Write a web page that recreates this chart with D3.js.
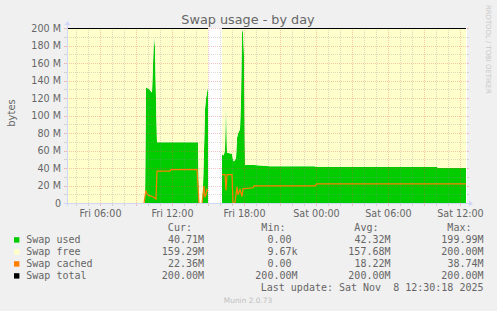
<!DOCTYPE html>
<html><head><meta charset="utf-8">
<script src="https://cdn.jsdelivr.net/npm/d3@7"></script>
<style>
html,body{margin:0;padding:0;background:#F0F0F0;}
svg{display:block;}
</style></head><body>
<svg id="chart" width="497" height="311"></svg>
<script>
// ---------- DATA (values in M bytes) ----------
const times = ["2025-11-07 03:15","2025-11-07 09:40","2025-11-07 09:45","2025-11-07 09:50","2025-11-07 09:55","2025-11-07 10:05","2025-11-07 10:15","2025-11-07 10:20","2025-11-07 10:25","2025-11-07 10:30","2025-11-07 10:35","2025-11-07 10:40","2025-11-07 10:45","2025-11-07 11:50","2025-11-07 11:55","2025-11-07 14:05","2025-11-07 14:10","2025-11-07 14:15","2025-11-07 14:30","2025-11-07 14:35","2025-11-07 14:40","2025-11-07 14:45","2025-11-07 14:50","2025-11-07 14:55","2025-11-07 15:00","2025-11-07 15:05","2025-11-07 16:05","2025-11-07 16:10","2025-11-07 16:15","2025-11-07 16:20","2025-11-07 16:25","2025-11-07 16:30","2025-11-07 16:35","2025-11-07 17:00","2025-11-07 17:05","2025-11-07 17:10","2025-11-07 17:15","2025-11-07 17:20","2025-11-07 17:25","2025-11-07 17:30","2025-11-07 17:40","2025-11-07 17:45","2025-11-07 17:50","2025-11-07 17:55","2025-11-07 18:00","2025-11-07 18:05","2025-11-07 18:45","2025-11-07 18:50","2025-11-07 20:10","2025-11-07 23:55","2025-11-08 00:00","2025-11-08 00:05","2025-11-08 10:05","2025-11-08 10:10","2025-11-08 12:30"];
const swapUsed = [0,0,0,133,132,131,128,127,160,192,178,120,70,70,70,70,70,0,0,20,60,108,120,127,133,null,null,57,55,56,62,115,58,57,50,48,50,52,75,80,85,120,199.99,195,170,44,44,44,42.5,42.5,41.6,41.6,41.6,40.71,40.71];
const swapFree = [200,200,200,67,68,69,72,73,40,8,22,80,130,130,130,130,130,200,200,180,140,92,80,73,67,null,null,143,145,144,138,85,142,143,150,152,150,148,125,120,115,80,0.01,5,30,156,156,156,157.5,157.5,158.4,158.4,158.4,159.29,159.29];
const swapCached = [0,0,8,15,11,9,8.5,8,7.5,7,6,5,37,37,38.74,38.74,20,0,0,10,20,7,10,16,14,null,null,33,33,33,33,15,33,33,0,0.5,1,10,19,10,16,12,8,17,17,17,18,20.2,20.2,20.2,21.5,22.4,22.4,22.4,22.36];
const swapTotal = [200,200,200,200,200,200,200,200,200,200,200,200,200,200,200,200,200,200,200,200,200,200,200,200,200,null,null,200,200,200,200,200,200,200,200,200,200,200,200,200,200,200,200,200,200,200,200,200,200,200,200,200,200,200,200];

const timeDomain = ["2025-11-07 03:15","2025-11-08 12:35"];
const yTickValues = [0,20,40,60,80,100,120,140,160,180,200];
const yTickLabels = ["0","20 M","40 M","60 M","80 M","100 M","120 M","140 M","160 M","180 M","200 M"];
const xLabelTimes = ["2025-11-07 06:00","2025-11-07 12:00","2025-11-07 18:00","2025-11-08 00:00","2025-11-08 06:00","2025-11-08 12:00"];
const xLabels = ["Fri 06:00","Fri 12:00","Fri 18:00","Sat 00:00","Sat 06:00","Sat 12:00"];

const legendNames = ["Swap used","Swap free","Swap cached","Swap total"];
const legendCur = ["40.71M","159.29M","22.36M","200.00M"];
const legendMin = ["0.00","9.67k","0.00","200.00M"];
const legendAvg = ["42.32M","157.68M","18.22M","200.00M"];
const legendMax = ["199.99M","200.00M","38.74M","200.00M"];
const legendHeaders = ["Cur:","Min:","Avg:","Max:"];
const titleText = "Swap usage - by day";
const yAxisTitle = "bytes";
const lastUpdate = "Last update: Sat Nov  8 12:30:18 2025";
const versionText = "Munin 2.0.73";
const watermark = "RRDTOOL / TOBI OETIKER";

// ---------- STYLE ----------
const COLORS = {used:"#00CC00", free:"#FFFFCC", cached:"#FF8000", total:"#000000"};
const legendColors = [COLORS.used, COLORS.free, COLORS.cached, COLORS.total];
const FONT = "#666666";
const AXIS = "#CFD6F8";
const GRID = "rgba(143,143,143,0.32)";
const MGRID = "rgba(222,79,79,0.32)";
const PL = 67, PR = 467, PT = 28.5, PB = 203.5;

const parse = d3.timeParse("%Y-%m-%d %H:%M");
const data = times.map((t,i)=>({t:parse(t), used:swapUsed[i], free:swapFree[i], cached:swapCached[i], total:swapTotal[i]}));

const svg = d3.select("#chart");
svg.append("rect").attr("width",497).attr("height",311).attr("fill","#F0F0F0");

const x = d3.scaleTime().domain(timeDomain.map(parse)).range([PL, PR]);
const y = d3.scaleLinear().domain([0,200]).range([PB, PT]);

// canvas
svg.append("rect").attr("x",PL).attr("y",28).attr("width",PR-PL).attr("height",175).attr("fill","#FFFFFF");

// areas
const def = d => d.used != null;
svg.append("path").datum(data)
  .attr("fill", COLORS.used)
  .attr("d", d3.area().defined(def).x(d=>x(d.t)).y0(y(0)).y1(d=>y(d.used)));
svg.append("path").datum(data)
  .attr("fill", COLORS.free)
  .attr("d", d3.area().defined(def).x(d=>x(d.t)).y0(d=>y(d.used)).y1(d=>y(d.used+d.free)));

// grid
const g = svg.append("g");
const hours = x.ticks(d3.timeHour.every(1));
hours.forEach(h=>{
  const xx = Math.round(x(h))+0.5;
  if (xx <= PL+1 || xx >= PR) return;
  const major = h.getHours()%3===0;
  g.append("line").attr("x1",xx).attr("x2",xx).attr("y1",28).attr("y2",203)
    .attr("stroke", major?MGRID:GRID).attr("stroke-dasharray","1,1");
  g.append("line").attr("x1",xx).attr("x2",xx).attr("y1",203).attr("y2",206)
    .attr("stroke", major?MGRID:GRID);
});
y.ticks(20).forEach(v=>{
  if (v===0) return;
  const yy = Math.round(y(v)-0.5)+0.5;
  const major = v%20===0;
  g.append("line").attr("x1",PL).attr("x2",PR).attr("y1",yy).attr("y2",yy)
    .attr("stroke", major?MGRID:GRID).attr("stroke-dasharray","1,1");
  g.append("line").attr("x1",PL-3).attr("x2",PL).attr("y1",yy).attr("y2",yy)
    .attr("stroke", major?MGRID:GRID);
  g.append("line").attr("x1",PR).attr("x2",PR+2).attr("y1",yy).attr("y2",yy)
    .attr("stroke", major?MGRID:GRID);
});

// lines
svg.append("path").datum(data)
  .attr("fill","none").attr("stroke",COLORS.cached).attr("stroke-width",1.2)
  .attr("d", d3.line().defined(d=>d.cached!=null).x(d=>x(d.t)).y(d=>y(d.cached)));
svg.append("path").datum(data)
  .attr("fill","none").attr("stroke",COLORS.total).attr("stroke-width",1)
  .attr("d", d3.line().defined(d=>d.total!=null).x(d=>x(d.t)).y(d=>y(d.total)));

// axes
svg.append("line").attr("x1",PL-3).attr("x2",PR+3).attr("y1",203.5).attr("y2",203.5).attr("stroke",AXIS);
svg.append("line").attr("x1",PL+0.5).attr("x2",PL+0.5).attr("y1",206).attr("y2",24).attr("stroke",AXIS);
svg.append("path").attr("d",`M${PR+2},200.5 L${PR+6},203.5 L${PR+2},206.5 Z`).attr("fill",AXIS);
svg.append("path").attr("d",`M${PL-2.5},25 L${PL+0.5},21 L${PL+3.5},25 Z`).attr("fill",AXIS);

// tick labels
const tf = "'DejaVu Sans', Verdana, sans-serif";
yTickValues.forEach((v,i)=>{
  svg.append("text").attr("x",61).attr("y",y(v)+3.4).attr("text-anchor","end")
    .attr("font-family",tf).attr("font-size",9.6).attr("fill",FONT).text(yTickLabels[i]);
});
xLabelTimes.forEach((t,i)=>{
  svg.append("text").attr("x",Math.round(x(parse(t)))+0.5).attr("y",216.5).attr("text-anchor","middle")
    .attr("font-family",tf).attr("font-size",9.6).attr("fill",FONT).text(xLabels[i]);
});

// title
svg.append("text").attr("x",248).attr("y",24.3).attr("text-anchor","middle")
  .attr("font-family",tf).attr("font-size",12.8).attr("fill",FONT).text(titleText);
svg.append("text").attr("transform","translate(15,113) rotate(-90)").attr("text-anchor","middle")
  .attr("font-family",tf).attr("font-size",10).attr("fill",FONT).text(yAxisTitle);
svg.append("text").attr("transform","translate(485.5,5) rotate(90)").attr("text-anchor","start")
  .attr("font-family",tf).attr("font-size",6.9).attr("fill","#C8C8C8").text(watermark);

// legend
const mf = "'DejaVu Sans Mono', monospace";
const probe = svg.append("text").attr("font-family",mf).attr("font-size",10).text("0000000000");
const cw = probe.node().getComputedTextLength()/10;
probe.remove();
const colEdges = [204, 297.5, 390.5, 483.5];
const cols = [legendCur, legendMin, legendAvg, legendMax];
legendHeaders.forEach((h,j)=>{
  svg.append("text").attr("x",colEdges[j]-2*cw).attr("y",231).attr("text-anchor","end")
    .attr("font-family",mf).attr("font-size",10).attr("fill",FONT).text(h);
});
legendNames.forEach((n,i)=>{
  const yy = 243 + i*12;
  svg.append("rect").attr("x",14).attr("y",yy-5.8).attr("width",5.4).attr("height",5.4).attr("fill",legendColors[i]);
  svg.append("text").attr("x",26.3).attr("y",yy).attr("font-family",mf).attr("font-size",10).attr("fill",FONT).text(n);
  cols.forEach((c,j)=>{
    const s = c[i];
    const hasSuffix = /[A-Za-z]$/.test(s);
    svg.append("text").attr("x",colEdges[j]-(hasSuffix?0:cw)).attr("y",yy).attr("text-anchor","end")
      .attr("font-family",mf).attr("font-size",10).attr("fill",FONT).text(s);
  });
});
svg.append("text").attr("x",483.5).attr("y",291).attr("text-anchor","end").style("white-space","pre")
  .attr("font-family",mf).attr("font-size",10).attr("fill",FONT).text(lastUpdate);
svg.append("text").attr("x",248).attr("y",303).attr("text-anchor","middle")
  .attr("font-family",tf).attr("font-size",7.4).attr("fill","#C0C0C0").text(versionText);
</script>
</body></html>
